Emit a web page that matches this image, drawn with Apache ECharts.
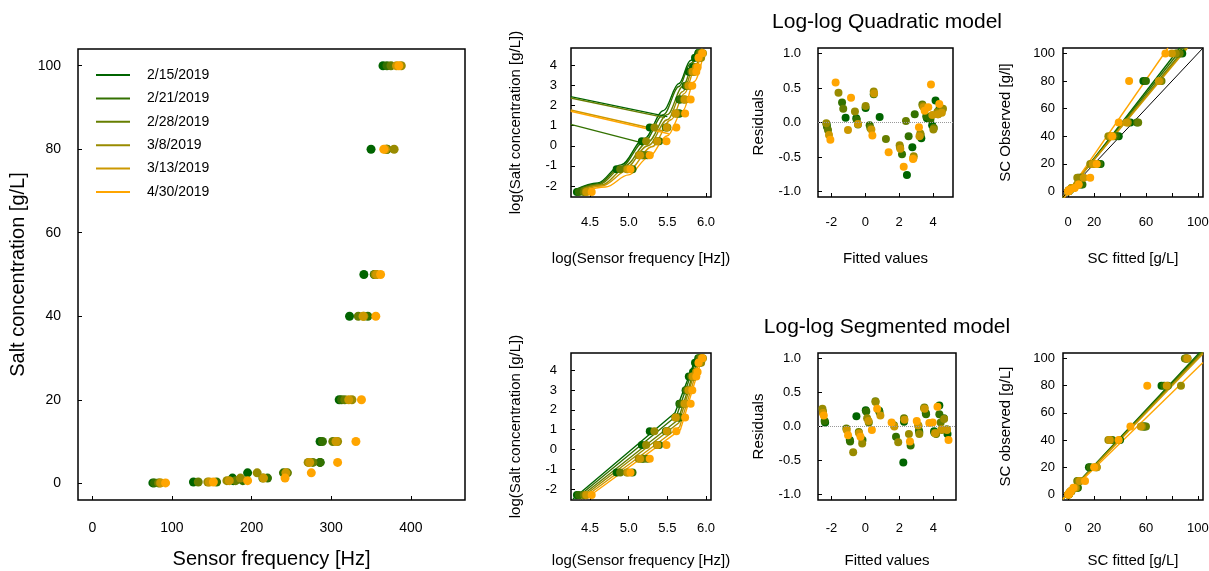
<!DOCTYPE html>
<html>
<head>
<meta charset="utf-8">
<script src="https://cdn.jsdelivr.net/npm/echarts@6/dist/echarts.min.js"></script>
<style>
html, body { margin: 0; padding: 0; background: #fff; }
#chart { width: 1209px; height: 571px; }
</style>
</head>
<body>
<div id="chart"></div>
<script>
var dates = ['2/15/2019', '2/21/2019', '2/28/2019', '3/8/2019', '3/13/2019', '4/30/2019'];
var dateColors = ['#006400', '#337100', '#667e00', '#998b00', '#cc9800', '#ffa500'];

// salt standards [g/L] and sensor frequency [Hz] per date (same order)
var saltConc = [0.1, 0.3125, 0.625, 1.25, 2.5, 5, 10, 20, 40, 50, 80, 100];
var sensorFreq = [
  [76, 127, 177, 176, 195, 286, 286, 310, 323, 341, 350, 365],
  [78, 156, 189, 220, 240, 286, 289, 313, 346, 354, 370, 370],
  [83, 133, 180, 214, 245, 277, 302, 317, 334, 356, 370, 375],
  [85, 145, 169, 186, 207, 271, 308, 326, 341, 355, 379, 388],
  [86, 147, 172, 215, 243, 273, 306, 322, 340, 357, 368, 382],
  [92, 152, 195, 242, 275, 308, 331, 338, 356, 362, 366, 385]
];

// log-log quadratic model: fitted curves, odd straight segments, residuals, SC fitted
var quadCurves = [
  [[4.30, -2.2], [4.6, -1.85], [4.9, -0.95], [5.2, 0.35], [5.45, 1.75], [5.65, 3.1], [5.8, 4.25], [5.88, 4.8]],
  [[4.31, -2.2], [4.6, -1.9], [4.9, -1.05], [5.2, 0.2], [5.45, 1.55], [5.65, 2.95], [5.8, 4.1], [5.9, 4.8]],
  [[4.33, -2.22], [4.6, -1.95], [4.95, -1.0], [5.25, 0.2], [5.5, 1.55], [5.7, 2.95], [5.85, 4.2], [5.92, 4.8]],
  [[4.35, -2.22], [4.65, -1.95], [4.95, -1.15], [5.25, 0.0], [5.5, 1.3], [5.7, 2.7], [5.85, 3.95], [5.95, 4.85]],
  [[4.38, -2.25], [4.65, -2.0], [5.0, -1.2], [5.3, -0.05], [5.55, 1.3], [5.72, 2.6], [5.87, 3.95], [5.96, 4.8]],
  [[4.42, -2.25], [4.7, -2.05], [5.0, -1.45], [5.25, -0.6], [5.5, 0.5], [5.7, 1.75], [5.85, 3.2], [5.97, 4.6]]
];
var quadJumpDate = [0, 2, 4, 5, 1];
var quadJumpLines = [
  [[4.25, 2.45], [5.50, 1.45]],
  [[4.25, 2.38], [5.47, 1.40]],
  [[4.25, 1.78], [5.44, 0.75]],
  [[4.25, 1.72], [5.52, 0.60]],
  [[4.25, 1.07], [5.15, 0.17]]
];
var quadResid = [
  [[-2.28, -0.03], [-1.16, 0.07], [-0.53, 0.06], [0.02, 0.21], [0.85, 0.08], [2.46, -0.76], [2.78, -0.36], [3.31, -0.23], [3.64, 0.06], [3.95, -0.04], [4.15, 0.32], [4.4, 0.22]],
  [[-2.26, -0.06], [-1.37, 0.29], [-0.5, 0.04], [0.26, -0.04], [0.5, 0.41], [2.17, -0.46], [2.56, -0.2], [2.92, 0.12], [3.6, 0.09], [3.85, 0.05], [4.29, 0.16], [4.45, 0.18]],
  [[-2.2, -0.11], [-1.3, 0.2], [-0.43, -0.03], [0.3, -0.08], [1.22, -0.24], [2.05, -0.36], [2.4, 0.02], [3.27, -0.18], [3.37, 0.26], [4.05, -0.08], [4.3, 0.12], [4.5, 0.16]],
  [[-2.3, -0.01], [-1.58, 0.43], [-0.61, 0.16], [0.02, 0.24], [0.5, 0.45], [2.03, -0.33], [2.86, -0.49], [3.25, -0.16], [3.4, 0.24], [4.02, -0.1], [4.25, 0.15], [4.59, 0.2]],
  [[-2.14, -0.18], [-1.02, -0.11], [-0.43, -0.02], [0.36, -0.1], [0.52, 0.42], [2.07, -0.38], [2.84, -0.52], [3.2, -0.2], [3.45, 0.22], [3.96, 0.11], [4.28, 0.12], [4.52, 0.14]],
  [[-2.06, -0.25], [-1.75, 0.58], [-0.84, 0.36], [0.42, -0.19], [1.38, -0.43], [2.27, -0.64], [2.82, -0.53], [3.17, -0.07], [3.51, 0.17], [3.72, 0.22], [3.88, 0.55], [4.37, 0.27]]
];
var quadScFitted = [
  [0.1, 0.3, 0.6, 1.5, 4, 10, 10, 25, 39, 48, 58, 88],
  [0.1, 0.3, 0.6, 1.5, 3, 11, 8, 24, 37, 53, 60, 84],
  [0.1, 0.3, 0.7, 1.3, 3.5, 8, 9, 20, 35, 54, 72, 86],
  [0.1, 0.2, 0.5, 1.2, 2.5, 7, 7, 17, 31, 46, 71, 83],
  [0.1, 0.4, 0.6, 1.4, 3, 8, 12, 19, 33, 45, 70, 80],
  [0.1, 0.2, 0.4, 1.2, 5, 8, 17, 22, 34, 39, 47, 75]
];
var quadScLines = [
  [[-4, -5], [86, 104]],
  [[-4, -4.5], [88, 104]],
  [[-4, -4.5], [90, 104]],
  [[-4, -4], [91, 104]],
  [[-4, -4], [92, 104]],
  [[-4, -6], [77, 104]]
];
var oneToOne = [[-4, -4], [104, 104]];

// log-log segmented model
var segCurves = [
  [[4.28, -2.5], [5.60, 1.85], [5.87, 4.62]],
  [[4.31, -2.5], [5.62, 1.70], [5.88, 4.62]],
  [[4.34, -2.5], [5.64, 1.50], [5.90, 4.62]],
  [[4.37, -2.5], [5.65, 1.35], [5.91, 4.62]],
  [[4.40, -2.5], [5.66, 1.15], [5.93, 4.62]],
  [[4.44, -2.5], [5.67, 1.00], [5.95, 4.62]]
];
var segResid = [
  [[-2.37, 0.06], [-0.92, -0.2], [-0.53, 0.15], [0.02, 0.24], [0.81, 0.23], [2.23, -0.53], [2.27, 0.07], [3.17, -0.08], [3.55, 0.2], [4.04, -0.07], [4.35, 0.31], [4.83, -0.11]],
  [[-2.4, 0.08], [-0.9, -0.22], [-0.17, -0.2], [0.05, 0.22], [0.83, 0.21], [1.8, -0.15], [2.66, -0.28], [3.15, -0.06], [3.57, 0.18], [4.06, -0.09], [4.35, 0.18], [4.62, 0.12]],
  [[-2.5, 0.22], [-1.12, -0.03], [-0.39, -0.08], [0.2, 0.06], [0.59, 0.37], [1.68, 0.02], [2.27, 0.12], [3.12, 0.01], [3.47, 0.28], [4.16, -0.11], [4.43, 0.06], [4.79, -0.04]],
  [[-2.53, 0.26], [-0.72, -0.38], [-0.19, -0.25], [0.1, 0.12], [0.6, 0.36], [1.93, -0.23], [2.56, -0.11], [3.17, -0.11], [3.45, 0.27], [4.15, -0.1], [4.49, -0.05], [4.63, 0.11]],
  [[-2.5, 0.2], [-1.1, -0.05], [-0.37, -0.1], [0.18, 0.08], [0.88, 0.16], [1.7, 0.0], [2.3, 0.1], [3.1, 0.02], [3.49, 0.26], [4.1, -0.1], [4.47, -0.04], [4.8, -0.05]],
  [[-2.45, 0.16], [-1.02, -0.13], [-0.29, -0.15], [0.38, -0.05], [0.69, 0.26], [1.54, 0.06], [2.62, -0.22], [3.02, 0.08], [3.76, 0.05], [3.96, 0.06], [4.24, 0.29], [4.89, -0.2]]
];
var segScFitted = [
  [0.1, 0.4, 0.5, 1.2, 2.5, 7, 8, 16, 40, 59, 72, 91],
  [0.1, 0.4, 0.7, 1.1, 2.3, 7.5, 9, 17, 34, 58, 74, 92],
  [0.1, 0.3, 0.6, 1.2, 2, 6, 7, 22, 33, 60, 77, 90],
  [0.1, 0.3, 0.6, 1.1, 2.2, 6, 8, 21, 31, 57, 87, 91],
  [0.1, 0.3, 0.6, 1.1, 2.3, 5, 9, 22, 32, 56, 76, 92],
  [0.1, 0.4, 0.7, 1.3, 2, 4, 13, 20, 39, 48, 61, 130]
];
var segScLines = [
  [[-4, -3], [104, 107]],
  [[-4, -3], [104, 106]],
  [[-4, -3], [104, 105]],
  [[-4, -3.5], [104, 104.5]],
  [[-4, -3.5], [104, 103.5]],
  [[-4, -3], [104, 97]]
];

// tick labels
var freqTicks = [0, 100, 200, 300, 400];
var concTicks = [0, 20, 40, 60, 80, 100];
var logFreqTicks = [4.5, 5.0, 5.5, 6.0];
var logConcTicks = [-2, -1, 0, 1, 2, 3, 4];
var fittedTicks = [-2, 0, 2, 4];
var residTicks = [-1, -0.5, 0, 0.5, 1];
var scTicks = [0, 20, 40, 60, 80, 100];
var scLabels = [0, 20, 60, 100];

var FONT = '"Liberation Sans", Arial, sans-serif';
var boxes = [
  [78, 49, 387, 451],
  [571, 48, 140, 149], [818, 48, 135, 149], [1063, 48, 140, 149],
  [571, 353, 140, 147], [818, 353, 138, 147], [1063, 353, 140, 147]
];
var grids = boxes.map(function (b) {
  return { left: b[0], top: b[1], width: b[2], height: b[3], show: true,
    borderColor: '#000', borderWidth: 1.5, backgroundColor: 'transparent',
    containLabel: false, outerBoundsMode: 'none' };
});

function fmt1(v) { return v.toFixed(1); }
function axis(g, min, max, ticks, labels, fmt, margin, fs, name, gap, nfs) {
  return {
    type: 'value', gridIndex: g, min: min, max: max,
    axisLine: { show: false, onZero: false }, splitLine: { show: false },
    axisTick: { show: true, inside: true, length: 4, customValues: ticks, lineStyle: { color: '#000', width: 1 } },
    axisLabel: { customValues: labels, margin: margin, fontSize: fs, color: '#000', fontFamily: FONT, formatter: fmt },
    name: name, nameLocation: 'middle', nameGap: gap,
    nameTextStyle: { fontSize: nfs, color: '#000', fontFamily: FONT }
  };
}

var xAxes = [
  axis(0, -18, 468, freqTicks, freqTicks, null, 21, 14, 'Sensor frequency [Hz]', 49, 20),
  axis(1, 4.254, 6.065, logFreqTicks, logFreqTicks, fmt1, 19, 13, 'log(Sensor frequency [Hz])', 54, 15),
  axis(2, -2.79, 5.18, fittedTicks, fittedTicks, null, 19, 13, 'Fitted values', 54, 15),
  axis(3, -4, 104, scTicks, scLabels, null, 19, 13, 'SC fitted [g/L]', 54, 15),
  axis(4, 4.254, 6.065, logFreqTicks, logFreqTicks, fmt1, 22, 13, 'log(Sensor frequency [Hz])', 53, 15),
  axis(5, -2.79, 5.33, fittedTicks, fittedTicks, null, 22, 13, 'Fitted values', 53, 15),
  axis(6, -4, 104, scTicks, scLabels, null, 22, 13, 'SC fitted [g/L]', 53, 15)
];
var yAxes = [
  axis(0, -4, 104, concTicks, concTicks, null, 17, 14, 'Salt concentration [g/L]', 50, 20),
  axis(1, -2.55, 4.87, logConcTicks, logConcTicks, null, 14, 13, 'log(Salt concentration [g/L])', 48, 15),
  axis(2, -1.08, 1.08, residTicks, residTicks, fmt1, 17, 13, 'Residuals', 52, 15),
  axis(3, -4, 104, scTicks, scTicks, null, 8, 13, 'SC Observed [g/l]', 50, 15),
  axis(4, -2.55, 4.87, logConcTicks, logConcTicks, null, 14, 13, 'log(Salt concentration [g/L])', 48, 15),
  axis(5, -1.08, 1.08, residTicks, residTicks, fmt1, 17, 13, 'Residuals', 52, 15),
  axis(6, -4, 104, scTicks, scTicks, null, 8, 13, 'SC observed [g/L]', 50, 15)
];

function pts(g, data, color, size, name) {
  return { type: 'scatter', name: name, xAxisIndex: g, yAxisIndex: g, data: data,
    symbolSize: size, itemStyle: { color: color, opacity: 1 }, z: 3, clip: true };
}
function line(g, data, color, smooth) {
  return { type: 'line', xAxisIndex: g, yAxisIndex: g, data: data, smooth: smooth || false,
    smoothMonotone: 'x', symbol: 'none', showSymbol: false, clip: true, z: 2,
    lineStyle: { color: color, width: 1.4 } };
}
var zeroLine = { silent: true, symbol: 'none', label: { show: false },
  lineStyle: { type: 'dotted', color: '#999', width: 1 }, data: [{ yAxis: 0 }] };

var series = [];
// lines first
dates.forEach(function (d, i) {
  var c = dateColors[i];
  series.push(line(1, quadCurves[i], c, 0.35));
  series.push(line(3, quadScLines[i], c));
  series.push(line(4, segCurves[i], c));
  series.push(line(6, segScLines[i], c));
});
quadJumpLines.forEach(function (seg, k) {
  series.push(line(1, seg, dateColors[quadJumpDate[k]]));
});
var black = line(3, oneToOne, '#000');
black.lineStyle.width = 1;
series.push(black);

dates.forEach(function (d, i) {
  var c = dateColors[i];
  var logPts = sensorFreq[i].map(function (f, k) { return [Math.log(f), Math.log(saltConc[k])]; });
  series.push(pts(0, sensorFreq[i].map(function (f, k) { return [f, saltConc[k]]; }), c, 9, d));
  series.push(pts(1, logPts, c, 8));
  var r1 = pts(2, quadResid[i], c, 8);
  if (i === 0) r1.markLine = zeroLine;
  series.push(r1);
  series.push(pts(3, quadScFitted[i].map(function (v, k) { return [v, saltConc[k]]; }), c, 8));
  series.push(pts(4, logPts, c, 8));
  var r2 = pts(5, segResid[i], c, 8);
  if (i === 0) r2.markLine = zeroLine;
  series.push(r2);
  series.push(pts(6, segScFitted[i].map(function (v, k) { return [v, saltConc[k]]; }), c, 8));
});

var chart = echarts.init(document.getElementById('chart'));
chart.setOption({
  animation: false,
  backgroundColor: '#fff',
  grid: grids,
  xAxis: xAxes,
  yAxis: yAxes,
  legend: {
    orient: 'vertical', left: 96, top: 67, padding: 0, data: dates, icon: 'rect',
    itemWidth: 34, itemHeight: 2, itemGap: 7.4, selectedMode: false,
    textStyle: { fontSize: 14, color: '#000', fontFamily: FONT, lineHeight: 16, padding: [0, 0, 0, 12] }
  },
  graphic: [
    { type: 'text', x: 887, y: 22, style: { text: 'Log-log Quadratic model', fontSize: 21, fontFamily: FONT, fill: '#000', textAlign: 'center', textVerticalAlign: 'middle' } },
    { type: 'text', x: 887, y: 327, style: { text: 'Log-log Segmented model', fontSize: 21, fontFamily: FONT, fill: '#000', textAlign: 'center', textVerticalAlign: 'middle' } }
  ],
  series: series
});
</script>
</body>
</html>
